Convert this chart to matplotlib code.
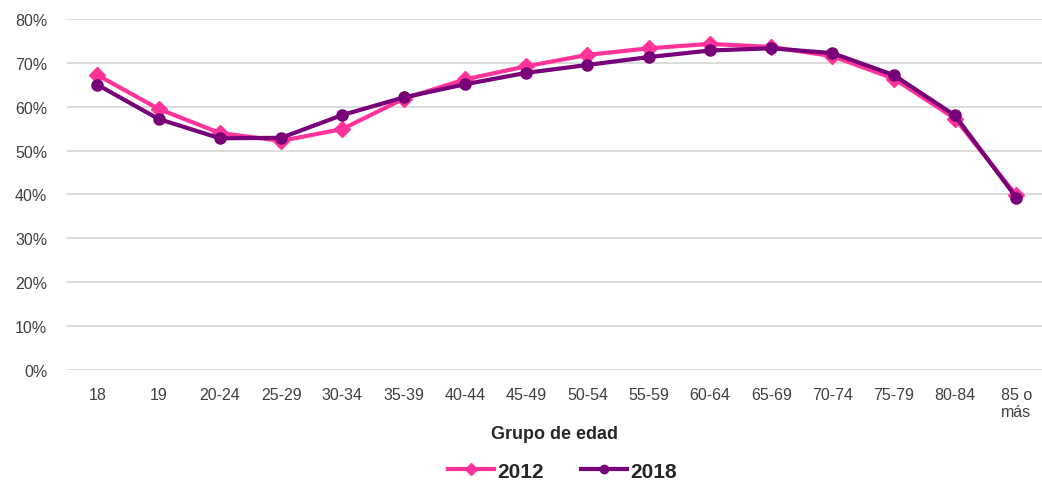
import matplotlib
matplotlib.use("Agg")
import matplotlib.pyplot as plt
from matplotlib.ticker import PercentFormatter

plt.rcParams['font.family'] = ['Liberation Sans', 'DejaVu Sans']

grupos = ['18', '19', '20-24', '25-29', '30-34', '35-39', '40-44', '45-49',
          '50-54', '55-59', '60-64', '65-69', '70-74', '75-79', '80-84', '85 o\nmás']
v2012 = [67.2, 59.5, 54.0, 52.2, 54.9, 61.8, 66.2, 69.2, 71.8, 73.3, 74.3, 73.6,
         71.5, 66.4, 57.3, 39.8]
v2018 = [65.0, 57.2, 52.8, 52.9, 58.1, 62.1, 65.1, 67.7, 69.5, 71.3, 72.8, 73.3,
         72.2, 67.2, 58.0, 39.3]

pink = '#FF3399'
purple = '#780078'

fig = plt.figure(figsize=(10.42, 4.85), dpi=100)
ax = fig.add_axes([0.064, 0.235, 0.936, 0.724])

x = range(len(grupos))
ax.plot(x, v2012, color=pink, lw=3, marker='D', ms=8, label='2012', zorder=3)
ax.plot(x, v2018, color=purple, lw=3, marker='o', ms=8, label='2018', zorder=4)

ax.set_ylim(0, 80)
ax.set_xlim(-0.5, 15.42)
ax.set_yticks(range(0, 81, 10))
ax.yaxis.set_major_formatter(PercentFormatter(decimals=0))
ax.set_xticks(list(x))
ax.set_xticklabels(grupos)
ax.grid(axis='y', color='#d9d9d9', lw=1.3)
ax.set_axisbelow(True)
for s in ax.spines.values():
    s.set_visible(False)
ax.tick_params(length=0, labelsize=11.5, colors='#404040')
ax.tick_params(axis='x', pad=12)
ax.tick_params(axis='y', pad=14)

ax.set_xlabel('Grupo de edad', fontsize=13, fontweight='bold', color='#262626', labelpad=4)
ax.legend(loc='center', bbox_to_anchor=(0.508, -0.288), ncol=2, frameon=False,
          prop={'size': 15, 'weight': 'bold'}, handlelength=2.2, columnspacing=1.8,
          handletextpad=0.15, markerscale=0.75, labelcolor='#262626')

fig.savefig('out.png', dpi=100)
